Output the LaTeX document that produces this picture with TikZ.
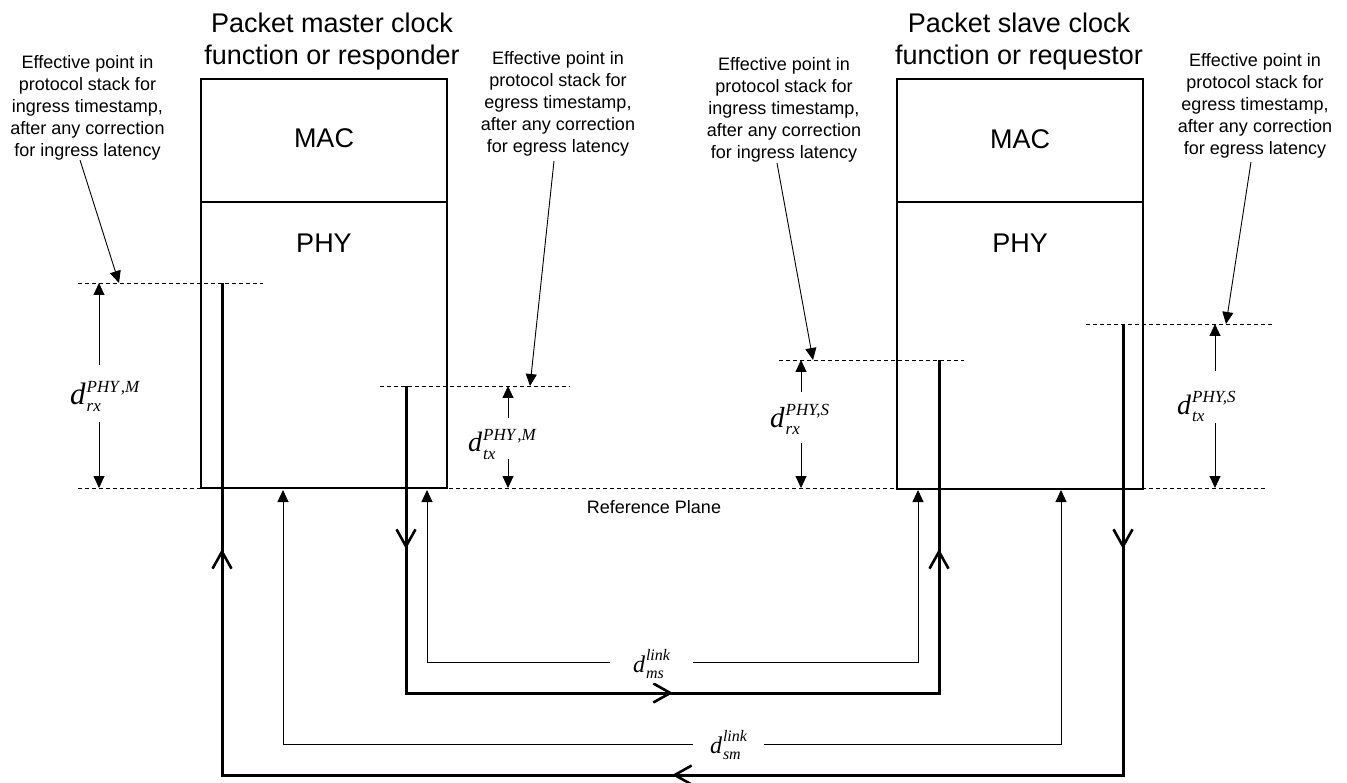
\documentclass[tikz,border=0pt]{standalone}
\usepackage{fontspec}
\setmainfont{Liberation Sans}
\newfontfamily\tms{Liberation Serif}
\usetikzlibrary{arrows.meta}
% #1 d size, #2 script size, #3 sup, #4 sub, #5 sub lowering, #6 extra row gap
\newcommand\dlab[6]{{\tms\itshape\fontsize{#1}{#1}\selectfont d\kern1pt\fontsize{#2}{#2}\selectfont\raisebox{-#5}{\begin{tabular}[b]{@{}l@{}}#3\\[#6]#4\end{tabular}}}}
\begin{document}
\begin{tikzpicture}[x=1pt,y=-1pt,
  thickln/.style={line width=3pt},
  boxst/.style={draw, line width=2.6pt, outer sep=0pt, inner sep=0pt, anchor=north west},
  dashln/.style={line width=0.8pt, dash pattern=on 4pt off 3pt},
  thinln/.style={line width=0.9pt},
  tri/.tip={Triangle[length=12pt,width=11pt]},
  openarr/.style={line width=3pt, -{Straight Barb[length=17pt,width=19pt,line width=2.6pt]}},
  ann/.style={align=center, font=\fontsize{18}{22}\selectfont, inner sep=0pt, anchor=north},
  ttl/.style={align=center, font=\fontsize{27}{32}\selectfont, inner sep=0pt, anchor=north},
  big/.style={font=\fontsize{27}{32}\selectfont, inner sep=0pt},
  lnklab/.style={fill=white, inner ysep=0pt, inner xsep=0pt, anchor=base},
  dimlab/.style={inner sep=0pt, anchor=base west}]
\useasboundingbox (0,0) rectangle (1347,783);

% reference plane and effective-point dashed lines
\coordinate (rpL) at (78,488);   \coordinate (rpR) at (1265,488);
\coordinate (dmrxL) at (78,283); \coordinate (dmrxR) at (263,283);
\coordinate (dmtxL) at (380,386); \coordinate (dmtxR) at (570,386);
\coordinate (dsrxL) at (779,360); \coordinate (dsrxR) at (964,360);
\coordinate (dstxL) at (1086,324); \coordinate (dstxR) at (1272,324);
\draw[dashln] (rpL) -- (rpR);
\draw[dashln] (dmrxL) -- (dmrxR);
\draw[dashln] (dmtxL) -- (dmtxR);
\draw[dashln] (dsrxL) -- (dsrxR);
\draw[dashln] (dstxL) -- (dstxR);

% boxes
\node[boxst, minimum width=246pt, minimum height=123pt] (mmac) at (201,79) {};
\node[boxst, minimum width=246pt, minimum height=286pt] (mphy) at (201,202) {};
\node[boxst, minimum width=246pt, minimum height=123pt] (smac) at (897,79) {};
\node[boxst, minimum width=246pt, minimum height=287pt] (sphy) at (897,202) {};
\node[big] (mmact) at (324,138) {MAC};
\node[big] (mphyt) at (324,243) {PHY};
\node[big] (smact) at (1020,139) {MAC};
\node[big] (sphyt) at (1020,243) {PHY};

% titles
\node[ttl] (mttl) at (332,13) {Packet master clock\\function or responder};
\node[ttl] (sttl) at (1019,13) {Packet slave clock\\function or requestor};

% annotations
\node[ann] (ann1) at (87.5,55) {Effective point in\\protocol stack for\\ingress timestamp,\\after any correction\\for ingress latency};
\node[ann] (ann2) at (558,51) {Effective point in\\protocol stack for\\egress timestamp,\\after any correction\\for egress latency};
\node[ann] (ann3) at (784,57) {Effective point in\\protocol stack for\\ingress timestamp,\\after any correction\\for ingress latency};
\node[ann] (ann4) at (1255,53) {Effective point in\\protocol stack for\\egress timestamp,\\after any correction\\for egress latency};
\coordinate (a1s) at (80,160);   \coordinate (a1e) at (119,283);
\coordinate (a2s) at (554,161);  \coordinate (a2e) at (530,386);
\coordinate (a3s) at (777,163);  \coordinate (a3e) at (813,360);
\coordinate (a4s) at (1251,162); \coordinate (a4e) at (1226,324);
\draw[thinln,-tri] (a1s) -- (a1e);
\draw[thinln,-tri] (a2s) -- (a2e);
\draw[thinln,-tri] (a3s) -- (a3e);
\draw[thinln,-tri] (a4s) -- (a4e);

% reference plane label
\node[font=\fontsize{18}{21}\selectfont, inner sep=0pt] (rplab) at (654,507) {Reference Plane};

% thick signal paths
\coordinate (mrx) at (222,283); \coordinate (mtx) at (406,386);
\coordinate (srx) at (939,360); \coordinate (stx) at (1123,324);
\draw[thickln] (mtx) -- ++(0,307) -| (srx);
\draw[thickln] (stx) -- ++(0,451) -| (mrx);
\draw[openarr] (406,520) -- (406,549);
\draw[openarr] (645,693) -- (673,693);
\draw[openarr] (939,580) -- (939,549);
\draw[openarr] (1123,520) -- (1123,549);
\draw[openarr] (700,775) -- (672,775);
\draw[openarr] (222,580) -- (222,549);

% link delay measurements
\coordinate (msL) at (427,490); \coordinate (msR) at (918,490);
\coordinate (smL) at (283,490); \coordinate (smR) at (1061,490);
\draw[thinln,tri-tri] (msL) -- ++(0,172) -| (msR);
\draw[thinln,tri-tri] (smL) -- ++(0,254) -| (smR);
\node[lnklab, minimum width=83pt] (lms) at (651.5,672) {\dlab{24pt}{16pt}{link}{ms}{6pt}{2pt}};
\node[lnklab, minimum width=71pt] (lsm) at (728.5,753) {\dlab{24pt}{16pt}{link}{sm}{6pt}{2pt}};

% PHY delay dimensions
\node[dimlab] (lrxm) at (70,405) {\dlab{31pt}{17pt}{PHY\kern2pt,M}{rx}{7pt}{2pt}};
\node[dimlab] (ltxm) at (468,452) {\dlab{28pt}{17pt}{PHY\kern2pt,M}{tx}{7pt}{2pt}};
\node[dimlab] (lrxs) at (770,428) {\dlab{29pt}{17pt}{PHY,S}{rx}{7pt}{2pt}};
\node[dimlab] (ltxs) at (1177,415) {\dlab{28pt}{17pt}{PHY,S}{tx}{7pt}{2pt}};
\coordinate (r1a) at (99,365); \coordinate (r1b) at (99,422);
\draw[thinln,-tri] (r1a) -- (99,283);
\draw[thinln,-tri] (r1b) -- (99,488);
\coordinate (r2a) at (508,418); \coordinate (r2b) at (508,459);
\draw[thinln,-tri] (r2a) -- (508,386);
\draw[thinln,-tri] (r2b) -- (508,488);
\coordinate (r3a) at (801,392); \coordinate (r3b) at (801,443);
\draw[thinln,-tri] (r3a) -- (801,360);
\draw[thinln,-tri] (r3b) -- (801,488);
\coordinate (r4a) at (1215,371); \coordinate (r4b) at (1215,423);
\draw[thinln,-tri] (r4a) -- (1215,324);
\draw[thinln,-tri] (r4b) -- (1215,488);
\end{tikzpicture}
\end{document}
